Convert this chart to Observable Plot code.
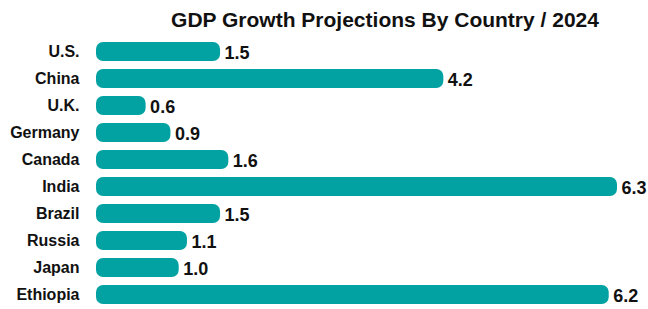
<!DOCTYPE html>
<html>
<head>
<meta charset="utf-8">
<script src="https://cdn.jsdelivr.net/npm/d3@7"></script>
<script src="https://cdn.jsdelivr.net/npm/@observablehq/plot@0.6"></script>
<style>
  html, body { margin: 0; padding: 0; background: #fff; }
  #title {
    height: 37px; width: 648px; box-sizing: border-box;
    font-family: "Liberation Sans", Arial, Helvetica, sans-serif;
    font-weight: bold; font-size: 21px;
    color: #111; text-align: center; padding-left: 122px;
    line-height: 21px; padding-top: 9px; white-space: nowrap;
  }
  #chart svg { display: block; }
</style>
</head>
<body>
<div id="title">GDP Growth Projections By Country / 2024</div>
<div id="chart"></div>
<script>
const countries = ["U.S.", "China", "U.K.", "Germany", "Canada", "India", "Brazil", "Russia", "Japan", "Ethiopia"];
const growth = [1.5, 4.2, 0.6, 0.9, 1.6, 6.3, 1.5, 1.1, 1.0, 6.2];
const data = countries.map((c, i) => ({country: c, value: growth[i]}));

const chart = Plot.plot({
  width: 648,
  height: 272,
  marginLeft: 96,
  marginRight: 31,
  marginTop: 0,
  marginBottom: 0,
  style: {fontFamily: "'Liberation Sans', Arial, Helvetica, sans-serif", background: "#fff", color: "#111"},
  x: {domain: [0, 6.3], axis: null},
  y: {domain: countries, paddingInner: 0.28, paddingOuter: 0.14, label: null},
  marks: [
    Plot.barX(data, {x: "value", y: "country", fill: "#03a2a2", rx: 7}),
    Plot.axisY({tickSize: 0, tickPadding: 17, fontSize: 16, fontWeight: "bold", label: null}),
    Plot.text(data, {x: "value", y: "country", text: d => d.value.toFixed(1), textAnchor: "start", dx: 4, dy: 1, fontSize: 18, fontWeight: "bold", fill: "#111"})
  ]
});
document.getElementById("chart").appendChild(chart);
</script>
</body>
</html>
